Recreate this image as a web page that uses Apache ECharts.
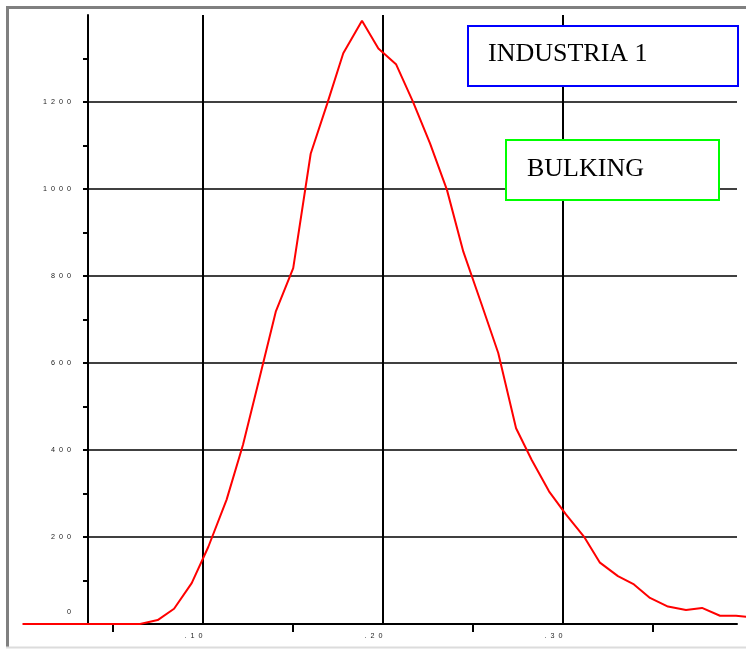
<!DOCTYPE html>
<html>
<head>
<meta charset="utf-8">
<script src="https://cdn.jsdelivr.net/npm/echarts@6/dist/echarts.min.js"></script>
<style>
  html, body { margin: 0; padding: 0; background: #fff; }
  #chart { width: 746px; height: 649px; }
</style>
</head>
<body>
<div id="chart"></div>
<script>
// 数据
let xVals = [0, 0.0653, 0.0751, 0.0842, 0.0940, 0.1032, 0.1134, 0.1225, 0.1314, 0.1407,
             0.1504, 0.1601, 0.1692, 0.1782, 0.1886, 0.1977, 0.2075, 0.2169, 0.2264, 0.2358,
             0.2449, 0.2547, 0.2643, 0.2742, 0.2829, 0.2925, 0.3019, 0.3119, 0.3208, 0.3308,
             0.3397, 0.3486, 0.3586, 0.3686, 0.3775, 0.3875, 0.3964, 0.4058];
let yVals = [0, 0, 9, 35, 94, 177, 286, 412, 561, 718,
             818, 1081, 1195, 1312, 1387, 1323, 1287, 1201, 1105, 998,
             856, 739, 623, 450, 377, 305, 252, 201, 141, 110,
             91, 60, 40, 32, 37, 19, 19, 15];
let xMinorTicks = [0.05, 0.15, 0.25, 0.35];
let xLabelVals = [0.1, 0.2, 0.3];
let yTickVals = [0, 100, 200, 300, 400, 500, 600, 700, 800, 900, 1000, 1100, 1200, 1300];
let yLabelVals = [0, 200, 400, 600, 800, 1000, 1200];
let yGridVals = [200, 400, 600, 800, 1000, 1200];

var myChart = echarts.init(document.getElementById('chart'));

function spaced(s) {
    return String(s).split('').join('  ');
}

var labelFont = { fontFamily: '"Liberation Sans", Arial, sans-serif', fontSize: 7.2, color: '#222' };
// frame axes start at the y axis (x=88), the curve itself starts at x=0
var xMin = 0.03639, xMax = 0.39694;

option = {
    animation: false,
    grid: [
        { left: 88, right: 9, top: 15, bottom: 25 },      // axes + grid lines
        { left: 22.5, right: 0, top: 15, bottom: 25 }     // curve
    ],
    xAxis: [{
        gridIndex: 0, type: 'value', min: xMin, max: xMax, position: 'bottom',
        axisLine: { lineStyle: { color: '#000', width: 2 } },
        axisTick: { show: true, customValues: xMinorTicks, length: 8, lineStyle: { color: '#000', width: 2 } },
        axisLabel: Object.assign({
            customValues: xLabelVals, margin: 9, align: 'right',
            formatter: function (v) { return spaced('.' + Math.round(v * 100)); }
        }, labelFont),
        splitLine: { show: false }
    }, {
        gridIndex: 0, type: 'value', min: xMin, max: xMax, position: 'bottom',
        axisLine: { show: false },
        axisTick: { show: false, customValues: xLabelVals },
        axisLabel: { show: false },
        splitLine: { show: true, lineStyle: { color: '#000', width: 2 } }
    }, {
        gridIndex: 1, type: 'value', min: 0, max: 0.40194,
        axisLine: { show: false }, axisTick: { show: false },
        axisLabel: { show: false }, splitLine: { show: false }
    }],
    yAxis: [{
        gridIndex: 0, type: 'value', min: 0, max: 1400, position: 'left',
        axisLine: { show: true, lineStyle: { color: '#000', width: 2 } },
        axisTick: { show: true, customValues: yTickVals, length: 5, lineStyle: { color: '#000', width: 2 } },
        axisLabel: Object.assign({
            customValues: yLabelVals, margin: 17,
            formatter: function (v) { return v === 0 ? '{z|0}' : spaced(v); },
            rich: { z: Object.assign({ padding: [0, 0, 24, 0] }, labelFont) }
        }, labelFont),
        splitLine: { show: false }
    }, {
        gridIndex: 0, type: 'value', min: 0, max: 1400, position: 'left',
        axisLine: { show: false },
        axisTick: { show: false, customValues: yGridVals },
        axisLabel: { show: false },
        splitLine: { show: true, lineStyle: { color: '#000', width: 1.5 } }
    }, {
        gridIndex: 1, type: 'value', min: 0, max: 1400,
        axisLine: { show: false }, axisTick: { show: false },
        axisLabel: { show: false }, splitLine: { show: false }
    }],
    series: [{
        type: 'line',
        xAxisIndex: 2,
        yAxisIndex: 2,
        data: xVals.map(function (x, i) { return [x, yVals[i]]; }),
        showSymbol: false,
        clip: false,
        z: 3,
        lineStyle: { color: '#ff0000', width: 2 }
    }],
    graphic: [
        { type: 'line', shape: { x1: 6, y1: 7.5, x2: 746, y2: 7.5 }, style: { stroke: '#808080', lineWidth: 3 } },
        { type: 'line', shape: { x1: 7.5, y1: 6, x2: 7.5, y2: 647 }, style: { stroke: '#808080', lineWidth: 3 } },
        { type: 'line', shape: { x1: 6, y1: 647.5, x2: 746, y2: 647.5 }, style: { stroke: '#dcdcdc', lineWidth: 2 } },
        { type: 'rect', z: 100, shape: { x: 468, y: 26, width: 270, height: 60 },
          style: { fill: '#fff', stroke: '#0000ff', lineWidth: 2 } },
        { type: 'text', z: 101, x: 488, y: 54,
          style: { text: 'INDUSTRIA 1', fontSize: 26, fontFamily: '"Liberation Serif", "Times New Roman", serif',
                   fill: '#000', verticalAlign: 'middle' } },
        { type: 'rect', z: 100, shape: { x: 506, y: 140, width: 213, height: 60 },
          style: { fill: '#fff', stroke: '#00ff00', lineWidth: 2 } },
        { type: 'text', z: 101, x: 527, y: 169,
          style: { text: 'BULKING', fontSize: 26, fontFamily: '"Liberation Serif", "Times New Roman", serif',
                   fill: '#000', verticalAlign: 'middle' } }
    ]
};

myChart.setOption(option);
</script>
</body>
</html>
